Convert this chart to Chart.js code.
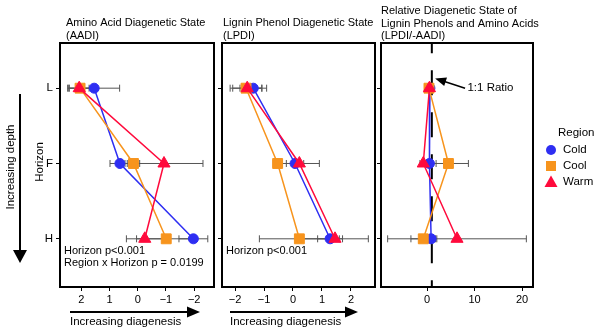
<!DOCTYPE html>
<html>
<head>
<meta charset="utf-8">
<script src="https://cdn.jsdelivr.net/npm/chart.js@4.4.1/dist/chart.umd.min.js"></script>
<style>
  html, body { margin: 0; padding: 0; background: #fff; }
  #wrap { position: relative; width: 600px; height: 332px; }
  #wrap canvas { position: absolute; left: 0; top: 0; }
</style>
</head>
<body>
<div id="wrap">
  <canvas id="aadi" width="600" height="332"></canvas>
  <canvas id="lpdi" width="600" height="332"></canvas>
  <canvas id="ratio" width="600" height="332"></canvas>
</div>
<script>
// horizons, top to bottom
const horizons = ['L', 'F', 'H'];
const horizonPos = [0, 1, 2];

// AADI (x axis reversed)
const aadiCold = [1.54, 0.63, -1.97];
const aadiColdErr = [0.9, 0.35, 0.51];
const aadiCool = [2.04, 0.15, -1.01];
const aadiCoolErr = [0.44, 0.22, 1.05];
const aadiWarm = [2.07, -0.93, -0.25];
const aadiWarmErr = [0.35, 1.38, 0.65];

// LPDI
const lpdiCold = [-1.37, 0.07, 1.28];
const lpdiColdErr = [0.46, 0.3, 0.43];
const lpdiCool = [-1.62, -0.53, 0.22];
const lpdiCoolErr = [0.55, 0.15, 1.38];
const lpdiWarm = [-1.58, 0.22, 1.45];
const lpdiWarmErr = [0.5, 0.69, 1.15];

// LPDI / -AADI
const ratioCold = [0.6, 0.5, 0.85];
const ratioColdErr = [0.2, 1.4, 1.2];
const ratioCool = [0.4, 4.5, -0.8];
const ratioCoolErr = [0.2, 4.2, 2.6];
const ratioWarm = [0.5, -0.8, 6.3];
const ratioWarmErr = [0.2, 0.7, 14.6];

const aadiTicks = [2, 1, 0, -1, -2];
const lpdiTicks = [-2, -1, 0, 1, 2];
const ratioTicks = [0, 10, 20];
const oneToOne = 1;

const FONT = '"Liberation Sans", Arial, Helvetica, sans-serif';
const BLUE = '#2e2ef2', ORANGE = '#f7941d', RED = '#ff0a3c';

const pts = (vals) => vals.map((v, i) => ({ x: v, y: horizonPos[i] }));
const minus = (v) => (v < 0 ? '\u2212' + Math.abs(v) : String(v));

function series(cold, coldErr, cool, coolErr, warm, warmErr) {
  return [
    { label: 'Cold', data: pts(cold), errors: coldErr, borderColor: BLUE, backgroundColor: BLUE,
      pointStyle: 'circle', pointRadius: 5, order: 2 },
    { label: 'Cool', data: pts(cool), errors: coolErr, borderColor: ORANGE, backgroundColor: ORANGE,
      pointStyle: 'rect', pointRadius: 7, order: 1 },
    { label: 'Warm', data: pts(warm), errors: warmErr, borderColor: RED, backgroundColor: RED,
      pointStyle: 'triangle', pointRadius: 7, order: 0 }
  ];
}

const errorBars = {
  id: 'errorBars',
  beforeDatasetsDraw(chart) {
    const { ctx } = chart;
    const xs = chart.scales.x, ys = chart.scales.y;
    ctx.save();
    ctx.strokeStyle = '#555';
    ctx.lineWidth = 1;
    chart.data.datasets.forEach(ds => {
      if (!ds.errors) return;
      ds.data.forEach((p, i) => {
        const e = ds.errors[i];
        const x0 = xs.getPixelForValue(p.x - e), x1 = xs.getPixelForValue(p.x + e);
        const py = ys.getPixelForValue(p.y);
        ctx.beginPath();
        ctx.moveTo(x0, py); ctx.lineTo(x1, py);
        ctx.moveTo(x0, py - 3.5); ctx.lineTo(x0, py + 3.5);
        ctx.moveTo(x1, py - 3.5); ctx.lineTo(x1, py + 3.5);
        ctx.stroke();
      });
    });
    ctx.restore();
  }
};

const frame = {
  id: 'frame',
  afterDraw(chart) {
    const { ctx, chartArea: a } = chart;
    ctx.save();
    ctx.strokeStyle = '#000';
    ctx.lineWidth = 2;
    ctx.strokeRect(a.left, a.top, a.right - a.left, a.bottom - a.top);
    ctx.restore();
  }
};

function arrowRight(ctx, x0, x1, y) {
  ctx.beginPath();
  ctx.moveTo(x0, y); ctx.lineTo(x1 - 12, y);
  ctx.stroke();
  ctx.beginPath();
  ctx.moveTo(x1, y); ctx.lineTo(x1 - 13, y - 5.5); ctx.lineTo(x1 - 13, y + 5.5);
  ctx.closePath(); ctx.fill();
}

function text(ctx, s, x, y, size, align) {
  ctx.font = size + 'px ' + FONT;
  ctx.textAlign = align || 'left';
  ctx.textBaseline = 'middle';
  ctx.fillText(s, x, y);
}

// page-level labels, drawn once from the first chart
const pageText = {
  id: 'pageText',
  afterDraw(chart) {
    const { ctx } = chart;
    ctx.save();
    ctx.fillStyle = '#000';
    ctx.strokeStyle = '#000';
    text(ctx, 'Amino Acid Diagenetic State', 66, 22.5, 11);
    text(ctx, '(AADI)', 66, 35.5, 11);
    text(ctx, 'Lignin Phenol Diagenetic State', 223, 22.5, 11);
    text(ctx, '(LPDI)', 223, 35.5, 11);
    text(ctx, 'Relative Diagenetic State of', 381, 11, 11);
    text(ctx, 'Lignin Phenols and Amino Acids', 381, 23.5, 11);
    text(ctx, '(LPDI/-AADI)', 381, 36, 11);

    text(ctx, 'Horizon p<0.001', 64, 250.7, 11);
    text(ctx, 'Region x Horizon p = 0.0199', 64, 263.3, 11);
    text(ctx, 'Horizon p<0.001', 226, 250.7, 11);

    ctx.lineWidth = 2;
    arrowRight(ctx, 70, 200, 312);
    arrowRight(ctx, 230, 358, 312);
    text(ctx, 'Increasing diagenesis', 70, 322, 11.5);
    text(ctx, 'Increasing diagenesis', 230, 322, 11.5);

    // depth arrow
    ctx.beginPath();
    ctx.moveTo(20, 94); ctx.lineTo(20, 252);
    ctx.stroke();
    ctx.beginPath();
    ctx.moveTo(20, 263); ctx.lineTo(13, 250); ctx.lineTo(27, 250);
    ctx.closePath(); ctx.fill();

    ctx.save();
    ctx.translate(11, 167); ctx.rotate(-Math.PI / 2);
    text(ctx, 'Increasing depth', 0, 0, 11.5, 'center');
    ctx.restore();
    ctx.save();
    ctx.translate(40, 162); ctx.rotate(-Math.PI / 2);
    text(ctx, 'Horizon', 0, 0, 11.5, 'center');
    ctx.restore();

    // legend
    text(ctx, 'Region', 558, 133, 11.5);
    ctx.fillStyle = BLUE;
    ctx.beginPath(); ctx.arc(551, 150, 5, 0, Math.PI * 2); ctx.fill();
    ctx.fillStyle = ORANGE;
    ctx.fillRect(546, 161, 10, 10);
    ctx.fillStyle = RED;
    ctx.beginPath(); ctx.moveTo(551, 175.5); ctx.lineTo(557.5, 187); ctx.lineTo(544.5, 187);
    ctx.closePath(); ctx.fill();
    ctx.fillStyle = '#000';
    text(ctx, 'Cold', 563, 150, 11.5);
    text(ctx, 'Cool', 563, 166, 11.5);
    text(ctx, 'Warm', 563, 182, 11.5);
    ctx.restore();
  }
};

// "1:1 Ratio" pointer in the ratio panel, in data units
const ratioNote = {
  id: 'ratioNote',
  afterDraw(chart) {
    const { ctx } = chart;
    const xs = chart.scales.x, ys = chart.scales.y;
    const tx = xs.getPixelForValue(1.7), ty = ys.getPixelForValue(-0.13);
    const sx = xs.getPixelForValue(8.0), sy = ys.getPixelForValue(0.0);
    const ang = Math.atan2(ty - sy, tx - sx);
    ctx.save();
    ctx.strokeStyle = '#000'; ctx.fillStyle = '#000'; ctx.lineWidth = 1.5;
    ctx.beginPath();
    ctx.moveTo(sx, sy);
    ctx.lineTo(tx - 9 * Math.cos(ang), ty - 9 * Math.sin(ang));
    ctx.stroke();
    ctx.translate(tx, ty); ctx.rotate(ang);
    ctx.beginPath();
    ctx.moveTo(0, 0); ctx.lineTo(-11, -4.5); ctx.lineTo(-11, 4.5);
    ctx.closePath(); ctx.fill();
    ctx.restore();
    ctx.save();
    ctx.fillStyle = '#000';
    text(ctx, '1:1 Ratio', xs.getPixelForValue(8.5), ys.getPixelForValue(0.0), 11.5);
    ctx.restore();
  }
};

function makePanel(id, datasets, xOpts, yLabels, pad, extraPlugins) {
  const yWidth = yLabels ? 30 : 6;
  return new Chart(document.getElementById(id), {
    type: 'scatter',
    data: { datasets },
    options: {
      responsive: false,
      animation: false,
      showLine: true,
      layout: { padding: { left: pad.left - yWidth, right: 600 - pad.right, top: pad.top, bottom: 332 - pad.bottom - 20 } },
      elements: { line: { borderWidth: 1.5, tension: 0 }, point: { borderWidth: 1 } },
      plugins: { legend: { display: false }, tooltip: { enabled: false } },
      scales: {
        x: {
          type: 'linear',
          min: xOpts.min, max: xOpts.max, reverse: !!xOpts.reverse,
          afterBuildTicks: (s) => { s.ticks = xOpts.ticks.map(v => ({ value: v })); },
          afterFit: (s) => { s.height = 20; },
          grid: { drawOnChartArea: false, drawTicks: true, tickLength: 4, color: '#000' },
          border: { display: false },
          ticks: { color: '#000', padding: 2, font: { family: FONT, size: 11 }, callback: (v) => minus(v) }
        },
        y: {
          type: 'linear',
          min: -0.6, max: 2.64, reverse: true,
          afterBuildTicks: (s) => { s.ticks = horizonPos.map(v => ({ value: v })); },
          afterFit: (s) => { s.width = yWidth; },
          grid: { drawOnChartArea: false, drawTicks: true, tickLength: 4, color: '#000' },
          border: { display: false },
          ticks: { display: !!yLabels, color: '#000', padding: 3, font: { family: FONT, size: 11.5 },
                   callback: (v) => horizons[v] }
        }
      }
    },
    plugins: [errorBars, frame].concat(extraPlugins || [])
  });
}

makePanel('aadi', series(aadiCold, aadiColdErr, aadiCool, aadiCoolErr, aadiWarm, aadiWarmErr),
  { min: -2.7, max: 2.75, reverse: true, ticks: aadiTicks }, true,
  { left: 60, right: 214, top: 43, bottom: 287 }, [pageText]);

makePanel('lpdi', series(lpdiCold, lpdiColdErr, lpdiCool, lpdiCoolErr, lpdiWarm, lpdiWarmErr),
  { min: -2.45, max: 2.83, ticks: lpdiTicks }, false,
  { left: 222, right: 375, top: 43, bottom: 287 });

const ratioSets = series(ratioCold, ratioColdErr, ratioCool, ratioCoolErr, ratioWarm, ratioWarmErr);
ratioSets.push({
  label: '1:1', data: [{ x: oneToOne, y: -0.6 }, { x: oneToOne, y: 2.64 }],
  borderColor: '#000', borderWidth: 2, borderDash: [25, 17], borderDashOffset: 14.8,
  pointRadius: 0, order: 5
});
makePanel('ratio', ratioSets,
  { min: -9.7, max: 22.3, ticks: ratioTicks }, false,
  { left: 381, right: 533, top: 43, bottom: 287 }, [ratioNote]);
</script>
</body>
</html>
